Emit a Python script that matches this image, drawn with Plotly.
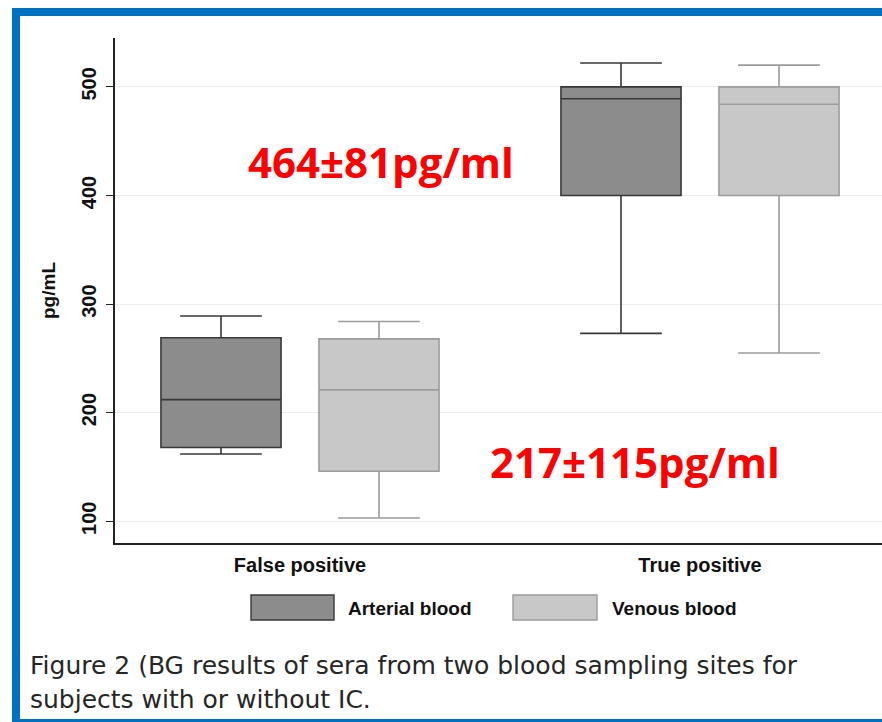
import plotly.graph_objects as go

categories = ["False positive", "True positive"]
series_names = ["Arterial blood", "Venous blood"]
arterial_lower = [162, 273]
arterial_q1 = [168, 400]
arterial_median = [212, 489]
arterial_q3 = [269, 500]
arterial_upper = [289, 522]
venous_lower = [103, 255]
venous_q1 = [146, 400]
venous_median = [221, 484]
venous_q3 = [268, 500]
venous_upper = [284, 520]
y_ticks = [100, 200, 300, 400, 500]
annotation_fp = "217±115pg/ml"
annotation_tp = "464±81pg/ml"
caption_lines = ["Figure 2 (BG results of sera from two blood sampling sites for",
                 "subjects with or without IC."]

W, H = 882, 722
L, R, T, B = 115, 0, 38, 179
PW, PH = W - L - R, H - T - B


def px(x):
    return (x - L) / PW


def py(y):
    return (H - B - y) / PH


fig = go.Figure()
fig.add_trace(go.Box(
    name=series_names[0], x=categories,
    q1=arterial_q1, median=arterial_median, q3=arterial_q3,
    lowerfence=arterial_lower, upperfence=arterial_upper,
    fillcolor="#8c8c8c", line=dict(color="#383838", width=1.6),
    whiskerwidth=0.68, boxpoints=False, showlegend=False, hoverinfo="skip"))
fig.add_trace(go.Box(
    name=series_names[1], x=categories,
    q1=venous_q1, median=venous_median, q3=venous_q3,
    lowerfence=venous_lower, upperfence=venous_upper,
    fillcolor="#c8c8c8", line=dict(color="#9c9c9c", width=1.6),
    whiskerwidth=0.68, boxpoints=False, showlegend=False, hoverinfo="skip"))

shapes = []
blue = "#0070c0"
# figure frame
shapes.append(dict(type="rect", xref="paper", yref="paper", x0=px(12), x1=px(20), y0=py(722), y1=py(8),
                   fillcolor=blue, line=dict(width=0), layer="above"))
shapes.append(dict(type="rect", xref="paper", yref="paper", x0=px(12), x1=px(884), y0=py(16), y1=py(8),
                   fillcolor=blue, line=dict(width=0), layer="above"))
shapes.append(dict(type="rect", xref="paper", yref="paper", x0=px(12), x1=px(884), y0=py(722), y1=py(719),
                   fillcolor=blue, line=dict(width=0), layer="above"))
# legend swatches
shapes.append(dict(type="rect", xref="paper", yref="paper", x0=px(251), x1=px(334), y0=py(620), y1=py(595),
                   fillcolor="#8c8c8c", line=dict(color="#383838", width=1.4)))
shapes.append(dict(type="rect", xref="paper", yref="paper", x0=px(513), x1=px(597), y0=py(620), y1=py(595),
                   fillcolor="#c8c8c8", line=dict(color="#9c9c9c", width=1.4)))

annotations = []
lab_font = dict(family="Liberation Sans, Arial", size=19, color="#111111", weight="bold")
annotations.append(dict(xref="paper", yref="paper", x=px(346), y=py(608), text=series_names[0],
                        showarrow=False, xanchor="left", yanchor="middle", font=lab_font))
annotations.append(dict(xref="paper", yref="paper", x=px(610), y=py(608), text=series_names[1],
                        showarrow=False, xanchor="left", yanchor="middle", font=lab_font))
red_font = dict(family="Open Sans, Lato", size=42, color="#ff0000", weight="bold")
annotations.append(dict(xref="paper", yref="paper", x=px(381), y=py(161), text=annotation_tp,
                        showarrow=False, xanchor="center", yanchor="middle", font=red_font))
annotations.append(dict(xref="paper", yref="paper", x=px(635), y=py(461), text=annotation_fp,
                        showarrow=False, xanchor="center", yanchor="middle", font=red_font))
cap_font = dict(family="DejaVu Sans", size=25, color="#262626")
annotations.append(dict(xref="paper", yref="paper", x=px(28), y=py(665), text=caption_lines[0],
                        showarrow=False, xanchor="left", yanchor="middle", font=cap_font))
annotations.append(dict(xref="paper", yref="paper", x=px(28), y=py(699), text=caption_lines[1],
                        showarrow=False, xanchor="left", yanchor="middle", font=cap_font))

fig.update_layout(
    width=W, height=H,
    margin=dict(l=L, r=R, t=T, b=B),
    paper_bgcolor="white", plot_bgcolor="white",
    boxmode="group", boxgap=0.21, boxgroupgap=0.24,
    shapes=shapes, annotations=annotations,
    font=dict(family="Liberation Sans, Arial", color="#111111"),
    xaxis=dict(range=[-0.4625, 1.455], showline=True, linecolor="#222222", linewidth=1.5,
               ticks="", showgrid=False, zeroline=False,
               tickfont=dict(family="Liberation Sans, Arial", size=20, color="#111111", weight="bold"),
               ticklabelstandoff=3),
    yaxis=dict(range=[80, 545], tickvals=y_ticks, showline=True, linecolor="#222222", linewidth=1.5,
               ticks="outside", ticklen=7, tickcolor="#222222", tickwidth=1.3,
               tickangle=-90, showgrid=True, gridcolor="#e9eef2", gridwidth=1.2, zeroline=False,
               tickfont=dict(family="Liberation Sans, Arial", size=20, color="#111111", weight="bold"),
               ticklabelstandoff=2,
               title=dict(text="pg/mL", standoff=18,
                          font=dict(family="Liberation Sans, Arial", size=19, color="#111111",
                                    weight="bold"))),
)

fig.write_html("out.html")
